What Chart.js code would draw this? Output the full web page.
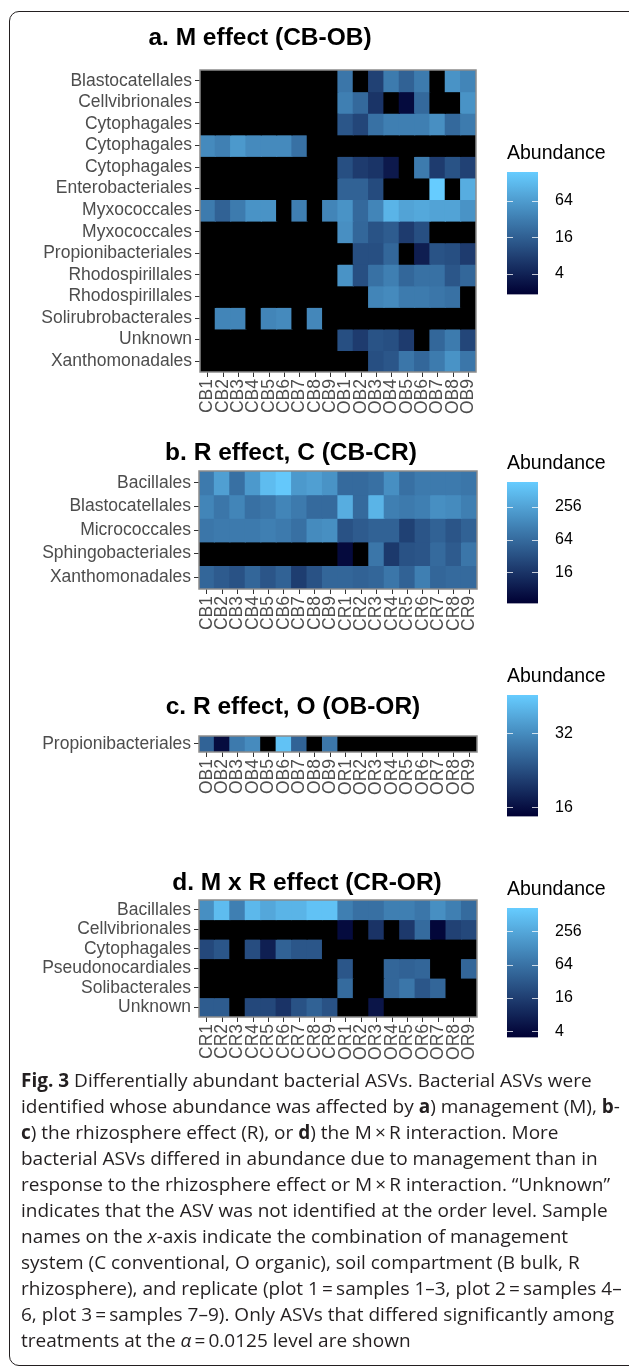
<!DOCTYPE html>
<html>
<head>
<meta charset="utf-8">
<script src="https://cdn.jsdelivr.net/npm/chart.js@4.4.0/dist/chart.umd.min.js"></script>
<style>
  html, body { margin: 0; padding: 0; background: #fff; }
  #page { position: relative; width: 629px; height: 1372px; overflow: hidden; }
  #frame { position: absolute; left: 9px; top: 11px; width: 660px; height: 1355px;
           border: 1.5px solid #231f20; border-radius: 10px; box-sizing: border-box; }
  canvas { position: absolute; left: 0; }
  canvas.legend { left: 490px; }
  #caption { position: absolute; left: 21px; top: 1067px; font-family: "Open Sans", sans-serif;
             font-size: 19px; line-height: 26px; color: #231f20; white-space: nowrap; }
  #caption b { font-weight: 700; }
</style>
</head>
<body>
<div id="page">
  <div id="frame"></div>
  <canvas id="heatA"></canvas>
  <canvas id="heatB"></canvas>
  <canvas id="heatC"></canvas>
  <canvas id="heatD"></canvas>
  <canvas id="barA" class="legend"></canvas>
  <canvas id="barB" class="legend"></canvas>
  <canvas id="barC" class="legend"></canvas>
  <canvas id="barD" class="legend"></canvas>
  <div id="caption">
<b>Fig. 3</b> Differentially abundant bacterial ASVs. Bacterial ASVs were<br>
identified whose abundance was affected by <b>a</b>) management (M), <b>b</b>-<br>
<b>c</b>) the rhizosphere effect (R), or <b>d</b>) the M&thinsp;×&thinsp;R interaction. More<br>
bacterial ASVs differed in abundance due to management than in<br>
response to the rhizosphere effect or M&thinsp;×&thinsp;R interaction. “Unknown”<br>
indicates that the ASV was not identified at the order level. Sample<br>
names on the <i>x</i>-axis indicate the combination of management<br>
system (C conventional, O organic), soil compartment (B bulk, R<br>
rhizosphere), and replicate (plot 1&thinsp;=&thinsp;samples 1–3, plot 2&thinsp;=&thinsp;samples 4–<br>
6, plot 3&thinsp;=&thinsp;samples 7–9). Only ASVs that differed significantly among<br>
treatments at the <i>α</i>&thinsp;=&thinsp;0.0125 level are shown
  </div>
</div>
<script>
// ---------------- Data ----------------
// abundance per ASV row and sample column; 0 = not detected (drawn black)

const samplesA = ["CB1","CB2","CB3","CB4","CB5","CB6","CB7","CB8","CB9","OB1","OB2","OB3","OB4","OB5","OB6","OB7","OB8","OB9"];
const rowsA = ["Blastocatellales","Cellvibrionales","Cytophagales","Cytophagales","Cytophagales","Enterobacteriales",
  "Myxococcales","Myxococcales","Propionibacteriales","Rhodospirillales","Rhodospirillales","Solirubrobacterales",
  "Unknown","Xanthomonadales"];
const valuesA = [
  [0,0,0,0,0,0,0,0,0, 27,0,8,30,17,30,0,52,38],
  [0,0,0,0,0,0,0,0,0, 33,20,6,0,2.3,20,0,0,52],
  [0,0,0,0,0,0,0,0,0, 13,9,24,33,33,33,48,20,30],
  [43,34,60,43,43,43,24,0,0, 0,0,0,0,0,0,0,0,0],
  [0,0,0,0,0,0,0,0,0, 11,7,6,3.2,0,30,7,12,8],
  [0,0,0,0,0,0,0,0,0, 17,17,10,0,0,0,194,0,96],
  [30,17,30,52,52,0,33,0,38, 52,20,38,111,76,84,76,76,52],
  [0,0,0,0,0,0,0,0,0, 48,19,12,15,7,11,0,0,0],
  [0,0,0,0,0,0,0,0,0, 0,11,11,19,0,3.6,12,11,7],
  [0,0,0,0,0,0,0,0,0, 52,11,24,33,19,24,24,13,19],
  [0,0,0,0,0,0,0,0,0, 0,0,38,43,30,30,27,24,0],
  [0,38,38,0,38,43,0,40,0, 0,0,0,0,0,0,0,0,0],
  [0,0,0,0,0,0,0,0,0, 11,7,12,11,7,0,19,30,9],
  [0,0,0,0,0,0,0,0,0, 0,0,11,13,27,19,30,52,27]
];
const limitsA = [1.8, 194];
const ticksA = [4, 16, 64];

const samplesB = ["CB1","CB2","CB3","CB4","CB5","CB6","CB7","CB8","CB9","CR1","CR2","CR3","CR4","CR5","CR6","CR7","CR8","CR9"];
const rowsB = ["Bacillales","Blastocatellales","Micrococcales","Sphingobacteriales","Xanthomonadales"];
const valuesB = [
  [94,238,73,204,491,667,204,238,175, 62,62,73,158,73,94,94,94,85],
  [122,85,122,73,85,122,94,62,62, 342,62,399,105,94,105,158,142,105],
  [85,94,94,94,105,94,73,142,158, 34,43,51,51,22,37,51,37,51],
  [0,0,0,0,0,0,0,0,0, 5.5,0,85,18,34,37,62,43,85],
  [56,43,34,56,37,51,20,34,56, 56,51,56,85,51,105,56,62,62]
];
const limitsB = [4.3, 740];
const ticksB = [16, 64, 256];

const samplesC = ["OB1","OB2","OB3","OB4","OB5","OB6","OB7","OB8","OB9","OR1","OR2","OR3","OR4","OR5","OR6","OR7","OR8","OR9"];
const rowsC = ["Propionibacteriales"];
const valuesC = [
  [25.5,15.7,29,32,0,43.5,25.5,0,28.6, 0,0,0,0,0,0,0,0,0]
];
const limitsC = [14.7, 45.9];
const ticksC = [16, 32];

const samplesD = ["CR1","CR2","CR3","CR4","CR5","CR6","CR7","CR8","CR9","OR1","OR2","OR3","OR4","OR5","OR6","OR7","OR8","OR9"];
const rowsD = ["Bacillales","Cellvibrionales","Cytophagales","Pseudonocardiales","Solibacterales","Unknown"];
const valuesD = [
  [135,442,88,396,258,357,357,519,519, 88,60,60,88,88,71,135,88,52],
  [0,0,0,0,0,0,0,0,0, 4.1,0,12,0,14,52,3.7,17.5,20.6],
  [20.6,30,0,24,7,41,30,30,0, 0,0,0,0,0,0,0,0,0],
  [0,0,0,0,0,0,0,0,0, 30,0,0,46,41,46,0,0,46],
  [0,0,0,0,0,0,0,0,0, 52,0,0,46,71,30,46,0,0],
  [35,35,0,20.6,20.6,12,27,41,27, 0,0,5.4,0,0,0,0,0,0]
];
const limitsD = [3.1, 680];
const ticksD = [4, 16, 64, 256];

// ---------------- Style ----------------
const LOW = [0, 0, 51], HIGH = [102, 204, 255];
const TITLE_SIZE = 24.5, LEG_TITLE_SIZE = 19.5, X_AXIS_H = 55;
Chart.defaults.font.family = "'Liberation Sans', Arial, sans-serif";

function mix(t) {
  const c = LOW.map((l, i) => Math.round(l + (HIGH[i] - l) * t));
  return `rgb(${c.join(",")})`;
}

function fillFor(v, lim) {
  if (!v) return "#000000";
  let t = (Math.log(v) - Math.log(lim[0])) / (Math.log(lim[1]) - Math.log(lim[0]));
  return mix(Math.max(0, Math.min(1, t)));
}

// grey frame round the panel
const panelBorder = {
  id: "panelBorder",
  afterDraw(chart) {
    const { ctx, chartArea: a } = chart;
    ctx.save();
    ctx.strokeStyle = "#8c8c8c";
    ctx.lineWidth = 1.5;
    ctx.strokeRect(a.left, a.top, a.right - a.left, a.bottom - a.top);
    ctx.restore();
  }
};

// white tick marks on the colour bar
const colorbarTicks = {
  id: "colorbarTicks",
  afterDatasetsDraw(chart) {
    const { ctx, chartArea: a } = chart;
    const y = chart.scales.y;
    ctx.save();
    ctx.strokeStyle = "rgba(255,255,255,0.75)";
    ctx.lineWidth = 1;
    y.ticks.forEach(t => {
      const py = Math.round(y.getPixelForValue(t.value)) + 0.5;
      ctx.beginPath();
      ctx.moveTo(a.left, py); ctx.lineTo(a.left + 6, py);
      ctx.moveTo(a.right - 6, py); ctx.lineTo(a.right, py);
      ctx.stroke();
    });
    ctx.restore();
  }
};

// ---------------- Heatmaps ----------------
function drawHeatmap(id, cfg) {
  const canvas = document.getElementById(id);
  const lh = TITLE_SIZE * 1.2;
  const top = Math.round(cfg.titleY - lh / 2 - 4);
  canvas.style.top = top + "px";
  canvas.width = 629;
  canvas.height = Math.round(cfg.bottom + X_AXIS_H - top);
  // title box runs from 0 to 2*titleX, so an empty right axis fills the gap after the panel
  const spacer = 2 * cfg.titleX - cfg.right;
  new Chart(canvas, {
    type: "bar",
    data: {
      labels: cfg.samples,
      datasets: cfg.rows.map((name, i) => ({
        label: name,
        data: cfg.values[i].map(() => 1),
        backgroundColor: cfg.values[i].map(v => fillFor(v, cfg.limits)),
        borderWidth: 0,
        inflateAmount: 0.6,
        stack: "cells"
      }))
    },
    options: {
      responsive: false,
      animation: false,
      devicePixelRatio: 1,
      events: [],
      barPercentage: 1,
      categoryPercentage: 1,
      layout: { padding: { left: 0, right: 629 - 2 * cfg.titleX, top: 0, bottom: 0 } },
      plugins: {
        legend: { display: false },
        tooltip: { enabled: false },
        title: {
          display: true,
          text: cfg.title,
          color: "#000",
          font: { size: TITLE_SIZE, weight: "bold" },
          padding: { top: cfg.titleY - lh / 2 - top, bottom: cfg.top - cfg.titleY - lh / 2 }
        }
      },
      scales: {
        x: {
          stacked: true,
          border: { display: false },
          grid: { offset: false, drawOnChartArea: false, drawTicks: true, tickLength: 5, color: "#333" },
          ticks: { color: "#4d4d4d", font: { size: 17.5 }, padding: 2, minRotation: 90, maxRotation: 90, autoSkip: false },
          afterFit: s => { s.height = X_AXIS_H; }
        },
        y: {
          stacked: true,
          min: 0,
          max: cfg.rows.length,
          reverse: true,
          border: { display: false },
          grid: { drawOnChartArea: false, drawTicks: true, tickLength: 5, color: "#333" },
          ticks: { color: "#4d4d4d", font: { size: 17.5 }, padding: 3, autoSkip: false, callback: (v, i) => cfg.rows[i] },
          afterBuildTicks: s => { s.ticks = cfg.rows.map((_, i) => ({ value: i + 0.5 })); },
          afterFit: s => { s.width = cfg.left; }
        },
        spacer: {
          type: "linear",
          position: "right",
          border: { display: false },
          grid: { display: false },
          ticks: { display: false },
          afterFit: s => { s.width = spacer; }
        }
      }
    },
    plugins: [panelBorder]
  });
}

// ---------------- Colour bars ----------------
function drawColorbar(id, cfg) {
  const canvas = document.getElementById(id);
  const lh = LEG_TITLE_SIZE * 1.2;
  const top = Math.round(cfg.titleY - lh / 2 - 4);
  canvas.style.top = top + "px";
  canvas.width = 139;
  canvas.height = Math.round(cfg.barBottom - top + 14);
  new Chart(canvas, {
    type: "bar",
    data: {
      labels: [""],
      datasets: [{
        data: [cfg.limits],
        borderWidth: 0,
        backgroundColor: c => {
          const a = c.chart.chartArea;
          if (!a) return mix(0.5);
          const g = c.chart.ctx.createLinearGradient(0, a.bottom, 0, a.top);
          for (let i = 0; i <= 10; i++) g.addColorStop(i / 10, mix(i / 10));
          return g;
        }
      }]
    },
    options: {
      responsive: false,
      animation: false,
      devicePixelRatio: 1,
      events: [],
      barPercentage: 1,
      categoryPercentage: 1,
      layout: { padding: { left: 17, right: 0, top: 0, bottom: 14 } },
      plugins: {
        legend: { display: false },
        tooltip: { enabled: false },
        title: {
          display: true,
          text: "Abundance",
          align: "start",
          color: "#000",
          font: { size: LEG_TITLE_SIZE, weight: "normal" },
          padding: { top: cfg.titleY - lh / 2 - top, bottom: cfg.barTop - cfg.titleY - lh / 2 }
        }
      },
      scales: {
        x: { display: false },
        y: {
          type: "logarithmic",
          position: "right",
          min: cfg.limits[0],
          max: cfg.limits[1],
          border: { display: false },
          grid: { display: false },
          ticks: { color: "#000", font: { size: 16 }, padding: 9, callback: v => String(v) },
          afterBuildTicks: s => { s.ticks = cfg.ticks.map(v => ({ value: v })); },
          afterFit: s => { s.width = 139 - 17 - 31; }
        }
      }
    },
    plugins: [colorbarTicks]
  });
}

// ---------------- Go ----------------
drawHeatmap("heatA", { title: "a. M effect (CB-OB)", samples: samplesA, rows: rowsA, values: valuesA, limits: limitsA,
  titleX: 260, titleY: 38, left: 200, right: 476, top: 70, bottom: 372 });
drawHeatmap("heatB", { title: "b. R effect, C (CB-CR)", samples: samplesB, rows: rowsB, values: valuesB, limits: limitsB,
  titleX: 291, titleY: 453, left: 199, right: 477, top: 471, bottom: 589 });
drawHeatmap("heatC", { title: "c. R effect, O (OB-OR)", samples: samplesC, rows: rowsC, values: valuesC, limits: limitsC,
  titleX: 293, titleY: 707, left: 199, right: 477, top: 736, bottom: 752 });
drawHeatmap("heatD", { title: "d. M x R effect (CR-OR)", samples: samplesD, rows: rowsD, values: valuesD, limits: limitsD,
  titleX: 307, titleY: 883, left: 199, right: 477, top: 900, bottom: 1017 });

drawColorbar("barA", { limits: limitsA, ticks: ticksA, titleY: 154, barTop: 172, barBottom: 299 });
drawColorbar("barB", { limits: limitsB, ticks: ticksB, titleY: 464, barTop: 482, barBottom: 608 });
drawColorbar("barC", { limits: limitsC, ticks: ticksC, titleY: 677, barTop: 695, barBottom: 821 });
drawColorbar("barD", { limits: limitsD, ticks: ticksD, titleY: 890, barTop: 908, barBottom: 1042 });
</script>
</body>
</html>
